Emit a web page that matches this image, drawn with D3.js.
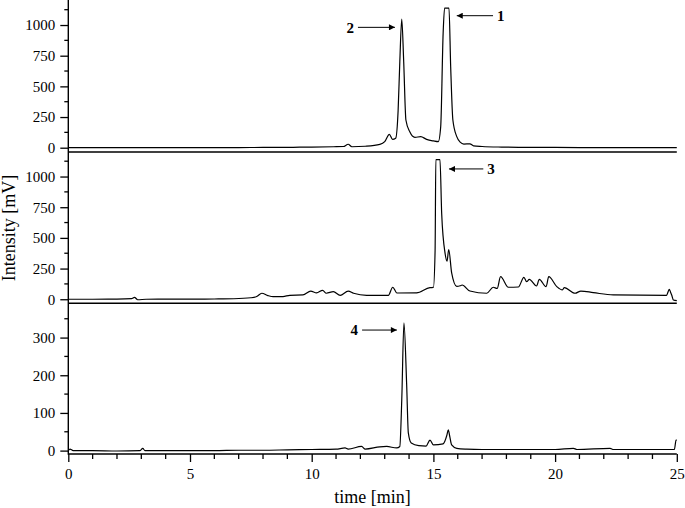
<html>
<head>
  <script src="https://cdn.jsdelivr.net/npm/d3@7"></script>
  <style>
    body { margin: 0; background: #fff; }
    svg text { font-family: "Liberation Serif", "Times New Roman", serif !important; fill: #000; }
  </style>
</head>
<body>
  <div id="content"></div>
  <script>
    // chromatogram 1 (top)
    t1 = [0, 1, 2, 3, 4, 5, 6, 7, 8, 9, 9.5, 10, 10.9, 11.3, 11.5, 11.65, 12.2, 12.8, 13.0, 13.19, 13.32, 13.45, 13.55, 13.62, 13.70, 13.78, 13.87, 14.03, 14.24, 14.48, 14.72, 15.0, 15.2, 15.3, 15.4, 15.46, 15.64, 15.71, 15.8, 15.96, 16.1, 16.25, 16.5, 16.65, 17.0, 17.8, 18.5, 20, 22, 25]
    v1 = [0, 1, 0, 1, 0, 1, 0, 1, 2, 3, 4, 5, 8, 10, 28, 8, 12, 27, 49, 109, 68, 77, 300, 700, 1049, 700, 226, 130, 85, 90, 68, 55, 49, 171, 932, 1137, 1137, 660, 226, 90, 45, 30, 32, 15, 10, 5, 3, 2, 1, 0]

    // chromatogram 2 (middle)
    t2 = [0, 1, 2, 2.6, 2.72, 2.85, 3.2, 4, 5, 6, 6.8, 7.5, 7.74, 7.95, 8.2, 8.42, 8.82, 9.1, 9.64, 9.96, 10.2, 10.45, 10.6, 10.89, 11.17, 11.5, 11.72, 12.26, 13.15, 13.33, 13.5, 14.31, 14.86, 15.0, 15.07, 15.1, 15.27, 15.34, 15.48, 15.56, 15.63, 15.75, 15.96, 16.1, 16.18, 16.5, 17.19, 17.46, 17.62, 17.76, 18.08, 18.49, 18.72, 18.83, 18.94, 19.24, 19.35, 19.63, 19.74, 20.07, 20.3, 20.38, 20.82, 21.06, 21.57, 22.39, 24.58, 24.64, 24.69, 24.74, 24.79, 24.86, 25]
    v2 = [0, 0, 1, 5, 16, -4, 0, 1, 1, 2, 4, 12, 22, 49, 30, 21, 22, 32, 35, 67, 52, 73, 49, 62, 32, 67, 49, 32, 32, 98, 51, 52, 95, 96, 400, 1138, 1138, 700, 374, 310, 405, 215, 105, 110, 116, 67, 49, 98, 88, 184, 98, 100, 179, 143, 162, 108, 162, 103, 184, 103, 76, 95, 49, 67, 54, 35, 32, 60, 81, 60, 35, -6, -11]

    // chromatogram 3 (bottom)
    t3 = [0, 0.07, 0.2, 1, 2, 2.95, 3.06, 3.15, 4, 5, 6, 7, 8, 9, 10, 11.0, 11.37, 11.5, 12.05, 12.2, 12.8, 13.08, 13.49, 13.62, 13.7, 13.79, 13.9, 13.97, 14.09, 14.4, 14.7, 14.86, 15.0, 15.4, 15.55, 15.61, 15.68, 15.75, 15.96, 16.37, 17, 20, 20.75, 20.9, 22.26, 22.4, 24.9, 24.97, 25]
    v3 = [0, 4, 0, 0, -1, 0, 6, 0, 0, 0, 0, 1, 1, 2, 3, 4, 7, 4, 11, 4, 10, 11, 7, 11, 134, 339, 178, 47, 20, 13, 12, 28, 15, 18, 40, 55, 35, 15, 6, 4, 3, 3, 6, 3, 6, 3, 3, 28, 28]

    xTicks = [0, 5, 10, 15, 20, 25]
    yTicks1 = [0, 250, 500, 750, 1000]
    yTicks3 = [0, 100, 200, 300]

    // peak labels: panel, label, arrow tip, arrow tail
    peakNames = ["1", "2", "3", "4"]
    peakPanel = [0, 0, 1, 2]
    peakTip = [[15.96, 1076], [13.42, 981], [15.64, 1062], [13.50, 320]]
    peakTail = [[17.45, 1076], [11.9, 981], [17.05, 1062], [12.07, 320]]

    width = 685
    height = 508
    left = 68.3
    right = 676.8
    axisBottom = 454
    serif = "Liberation Serif, Times New Roman, serif"

    x = d3.scaleLinear().domain([0, 25]).range([left, right])

    panels = [
      {t: t1, v: v1, y: d3.scaleLinear().domain([-35, 1204]).range([152, 0]), major: yTicks1, step: 125},
      {t: t2, v: v2, y: d3.scaleLinear().domain([-33, 1200]).range([303.3, 152]), major: yTicks1, step: 125},
      {t: t3, v: v3, y: d3.scaleLinear().domain([-9, 391]).range([454, 303.3]), major: yTicks3, step: 50}
    ]

    const svg = d3.select("#content").append("svg")
      .attr("width", width)
      .attr("height", height)
      .attr("font-family", serif)

    const defs = svg.append("defs")
    defs.append("marker")
      .attr("id", "head")
      .attr("viewBox", "0 0 10 10")
      .attr("refX", 10).attr("refY", 5)
      .attr("markerWidth", 9).attr("markerHeight", 6)
      .attr("markerUnits", "userSpaceOnUse")
      .attr("orient", "auto")
      .append("path").attr("d", "M0,0L10,5L0,10Z").attr("fill", "#000")

    line = d3.line().curve(d3.curveMonotoneX)

    panels.forEach((p, i) => {
      const [y0, y1] = p.y.range()
      defs.append("clipPath").attr("id", "clip" + i)
        .append("rect").attr("x", left).attr("y", y1).attr("width", right - left + 2).attr("height", y0 - y1)

      // trace
      svg.append("path")
        .attr("clip-path", `url(#clip${i})`)
        .attr("fill", "none")
        .attr("stroke", "#000")
        .attr("stroke-width", 1.2)
        .attr("stroke-linejoin", "round")
        .attr("d", line(p.t.map((t, j) => [x(t), p.y(p.v[j])])))

      // left axis with minor ticks
      const minor = d3.range(p.step, p.y.domain()[1], p.step).filter(v => !p.major.includes(v))
      const ax = svg.append("g").attr("transform", `translate(${left},0)`)
      ax.call(d3.axisLeft(p.y).tickValues(p.major).tickSize(8).tickPadding(5).tickFormat(d3.format("d")))
      ax.attr("font-family", serif).style("font-family", serif).attr("font-size", 15)
      ax.select(".domain").remove()
      ax.selectAll(".tick line").attr("stroke-width", 1.3)
      ax.selectAll(".minor").data(minor).join("line")
        .attr("x1", -4).attr("x2", 0)
        .attr("y1", d => p.y(d)).attr("y2", d => p.y(d))
        .attr("stroke", "#000").attr("stroke-width", 1.3)

      // bottom border of panel
      svg.append("line")
        .attr("x1", left).attr("x2", right)
        .attr("y1", y0).attr("y2", y0)
        .attr("stroke", "#000").attr("stroke-width", 1.4)
    })

    // vertical y axis line
    svg.append("line")
      .attr("x1", left).attr("x2", left)
      .attr("y1", 0).attr("y2", axisBottom + 0.7)
      .attr("stroke", "#000").attr("stroke-width", 1.4)

    // bottom time axis
    const xa = svg.append("g").attr("transform", `translate(0,${axisBottom})`)
    xa.call(d3.axisBottom(x).tickValues(xTicks).tickSize(8).tickPadding(6).tickFormat(d3.format("d")))
    xa.attr("font-family", serif).style("font-family", serif).attr("font-size", 15)
    xa.select(".domain").remove()
    xa.selectAll(".tick line").attr("stroke-width", 1.3)
    xa.selectAll(".minor").data(d3.range(1, 25).filter(d => d % 5 != 0)).join("line")
      .attr("x1", d => x(d)).attr("x2", d => x(d))
      .attr("y1", 0).attr("y2", 5)
      .attr("stroke", "#000").attr("stroke-width", 1.3)

    // axis titles
    svg.append("text")
      .attr("x", (left + right) / 2).attr("y", 503)
      .attr("text-anchor", "middle")
      .attr("font-size", 18)
      .text("time [min]")

    svg.append("text")
      .attr("transform", "translate(15,228) rotate(-90)")
      .attr("text-anchor", "middle")
      .attr("font-size", 18)
      .text("Intensity [mV]")

    // peak annotations
    peakNames.forEach((name, i) => {
      const y = panels[peakPanel[i]].y
      const tip = peakTip[i], tail = peakTail[i]
      svg.append("line")
        .attr("x1", x(tail[0])).attr("y1", y(tail[1]))
        .attr("x2", x(tip[0])).attr("y2", y(tip[1]))
        .attr("stroke", "#000").attr("stroke-width", 1)
        .attr("marker-end", "url(#head)")
      const toRight = tip[0] > tail[0]
      svg.append("text")
        .attr("x", toRight ? x(tail[0]) - 4 : x(tail[0]) + 4)
        .attr("y", y(tail[1]))
        .attr("dy", "0.35em")
        .attr("text-anchor", toRight ? "end" : "start")
        .attr("font-size", 15)
        .attr("font-weight", "bold")
        .text(name)
    })
  </script>
</body>
</html>
